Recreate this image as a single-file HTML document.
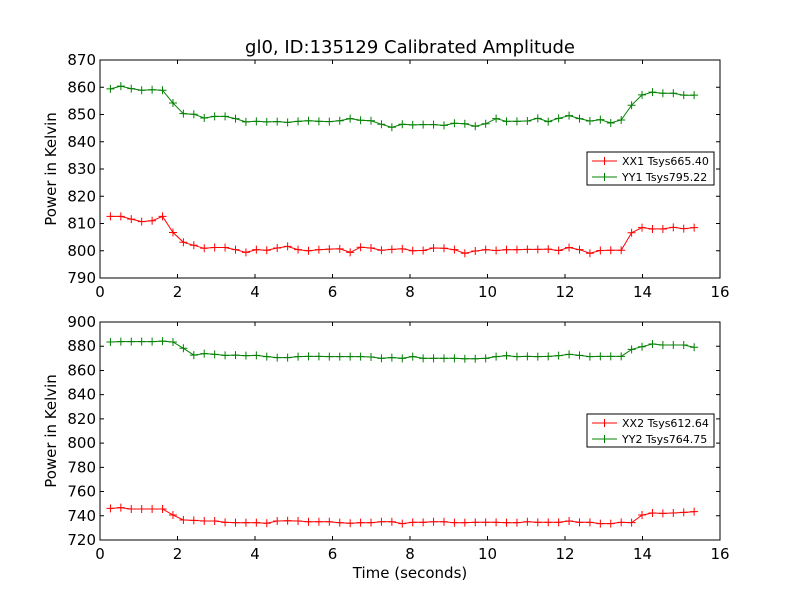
<!DOCTYPE html>
<html><head><meta charset="utf-8"><style>
body{margin:0;background:#fff;}
svg{display:block;font-family:"DejaVu Sans","Liberation Sans",sans-serif;}
</style></head><body>
<svg id="fig" width="800" height="600" xmlns="http://www.w3.org/2000/svg">
<rect width="800" height="600" fill="#fff"/>
<text x="410" y="53" font-size="18" text-anchor="middle">gl0, ID:135129 Calibrated Amplitude</text>
<text x="410" y="578" font-size="15" text-anchor="middle">Time (seconds)</text>
</svg>
<script>
const xx1 = [812.6,812.6,811.6,810.7,811.0,812.6,806.7,803.1,802.0,800.9,801.2,801.2,800.4,799.4,800.4,800.2,801.0,801.6,800.4,800.0,800.4,800.6,800.7,799.4,801.3,801.0,800.2,800.5,800.7,800.0,800.1,801.0,800.9,800.4,799.1,799.9,800.4,800.1,800.4,800.4,800.5,800.5,800.6,800.1,801.2,800.4,799.1,800.1,800.2,800.2,806.6,808.5,808.0,808.0,808.6,808.1,808.5];
const yy1 = [859.4,860.4,859.5,858.9,859.1,858.9,854.2,850.3,850.1,848.7,849.3,849.3,848.5,847.3,847.5,847.3,847.4,847.1,847.5,847.7,847.5,847.4,847.7,848.5,847.9,847.7,846.4,845.3,846.4,846.2,846.3,846.3,846.0,846.8,846.6,845.7,846.6,848.5,847.5,847.5,847.6,848.6,847.4,848.6,849.6,848.5,847.6,848.1,846.9,848.0,853.4,857.2,858.2,857.8,857.8,857.1,857.1];
const xx2 = [746.1,746.7,745.6,745.6,745.6,745.6,740.6,736.5,736.2,735.7,735.7,734.6,734.3,734.3,734.3,733.8,735.7,735.9,735.7,735.1,735.1,735.1,734.3,733.8,734.3,734.3,735.1,735.1,733.5,734.6,734.6,735.1,735.1,734.3,734.3,734.6,734.6,734.6,734.3,734.3,735.1,734.6,734.6,734.6,735.7,734.6,734.6,733.5,733.5,734.6,734.3,740.6,742.3,742.0,742.3,742.8,743.4];
const yy2 = [883.5,883.8,883.8,883.8,883.8,884.2,883.5,878.3,872.7,873.9,873.3,872.4,872.7,872.2,872.4,871.4,870.6,870.6,871.4,871.6,871.6,871.4,871.4,871.4,871.4,871.1,870.0,870.6,870.0,871.4,870.0,870.0,870.0,870.0,869.7,869.7,870.0,871.4,872.2,871.4,871.6,871.4,871.6,872.2,873.3,872.4,871.4,871.6,871.6,871.6,877.4,879.6,881.8,881.0,881.0,881.0,879.1];
const times = xx1.map((_, i) => +(0.269 * (i + 1)).toFixed(3));
const xTicks = [0,2,4,6,8,10,12,14,16];
const yTicks1 = [790,800,810,820,830,840,850,860,870];
const yTicks2 = [720,740,760,780,800,820,840,860,880,900];
const labels1 = ["XX1 Tsys665.40","YY1 Tsys795.22"];
const labels2 = ["XX2 Tsys612.64","YY2 Tsys764.75"];

const NS = "http://www.w3.org/2000/svg";
const svg = document.getElementById('fig');
function mk(tag, attrs, parent){const e=document.createElementNS(NS,tag);for(const k in attrs)e.setAttribute(k,attrs[k]);(parent||svg).appendChild(e);return e;}

function panel(top, bottom, ymin, ymax, yTicks, series, labels, legTop, nm){
  const L=100,R=720;
  const g=mk('g',{});
  
  
  const sx=v=>L+(v-0)/16*(R-L);
  const sy=v=>bottom-(v-ymin)/(ymax-ymin)*(bottom-top);
  const cols=['#ff0000','#008000'];
  series.forEach((s,si)=>{
    const pts=s.map((v,i)=>sx(times[i]).toFixed(1)+','+sy(v).toFixed(1)).join(' ');
    const pl=mk('polyline',{points:pts,fill:'none',stroke:cols[si],'stroke-width':1},g);
    
    
    s.forEach((v,i)=>{
      const x=sx(times[i]),y=sy(v);
      const p=mk('path',{d:`M${x-4},${y}H${x+4}M${x},${y-4}V${y+4}`,stroke:cols[si],'stroke-width':1},g);
      
      
    });
  });
  const fr=mk('rect',{x:L,y:top,width:R-L,height:bottom-top,fill:'none',stroke:'#000','stroke-width':1},g);
  
  
  xTicks.forEach(t=>{
    const x=sx(t);
    mk('path',{d:`M${x},${bottom}v-4M${x},${top}v4`,stroke:'#000'},g);
    const tx=mk('text',{x:x,y:bottom+19,'font-size':15,'text-anchor':'middle'},g);
    tx.textContent=t;
    
    
  });
  yTicks.forEach(t=>{
    const y=sy(t);
    mk('path',{d:`M${L},${y}h4M${R},${y}h-4`,stroke:'#000'},g);
    const tx=mk('text',{x:L-4,y:y+5,'font-size':15,'text-anchor':'end'},g);
    tx.textContent=t;
    
    
  });
  const yl=mk('text',{x:0,y:0,'font-size':15,'text-anchor':'middle',transform:`translate(56,${(top+bottom)/2}) rotate(-90)`},g);
  yl.textContent='Power in Kelvin';
  
  
  const lg=mk('g',{},g);
  
  
  mk('rect',{x:587,y:legTop,width:127,height:33,fill:'#fff',stroke:'#000','stroke-width':1},lg);
  labels.forEach((lb,i)=>{
    const y=legTop+9+i*16;
    mk('path',{d:`M592,${y}h25M604.5,${y-4}v8`,stroke:cols[i]},lg);
    const tx=mk('text',{x:622,y:y+4,'font-size':11},lg);
    tx.textContent=lb;
    
    
  });
}
panel(60,278,790,870,yTicks1,[xx1,yy1],labels1,152,'top-panel');
panel(322,540,720,900,yTicks2,[xx2,yy2],labels2,414,'bottom-panel');
</script>
</body></html>
